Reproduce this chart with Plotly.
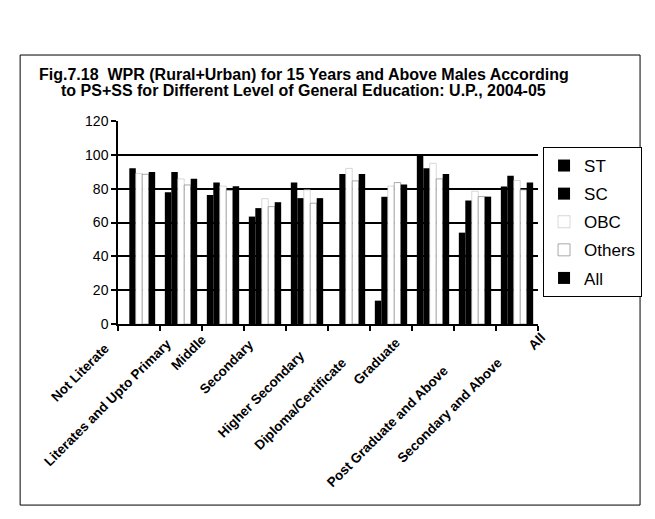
import plotly.graph_objects as go

categories = ["Not Literate", "Literates and Upto Primary", "Middle", "Secondary",
              "Higher Secondary", "Diploma/Certificate", "Graduate",
              "Post Graduate and Above", "Secondary and Above", "All"]
st = [None, 77.9, 76.3, 63.5, 83.7, None, 13.8, 99.6, 54.0, 81.3]
sc = [92.0, 89.8, 83.6, 68.5, 74.4, 88.6, 75.2, 92.1, 73.0, 87.6]
obc = [89.0, 85.8, 81.5, 74.1, 79.3, 92.0, 81.5, 95.0, 78.5, 84.8]
others = [88.5, 82.2, 79.0, 69.4, 71.4, 84.6, 83.6, 85.8, 75.3, 79.3]
all_ = [89.8, 85.8, 81.5, 72.0, 74.4, 88.6, 82.5, 88.6, 75.3, 83.6]
y_ticks = [0, 20, 40, 60, 80, 100, 120]
title_lines = ["Fig.7.18  WPR (Rural+Urban) for 15 Years and Above Males According",
               "to PS+SS for Different Level of General Education: U.P., 2004-05"]

# label placement offsets (px) mimicking the original's staggered category labels
label_dx = [-24, -4, -11, -5, 3, 4, 15, 21, 33, 34]
label_dy = [-13, -9, -5, -10, -21, -28, -8, -36, -28, -3]

FONT = "Liberation Sans, Arial, sans-serif"

series = [
    ("ST", st, "#000000", "#000000", 0),
    ("SC", sc, "#000000", "#000000", 0),
    ("OBC", obc, "#ffffff", "#b0b0b0", 0.5),
    ("Others", others, "#ffffff", "#707070", 0.6),
    ("All", all_, "#000000", "#000000", 0),
]

fig = go.Figure()
for name, vals, fill, line, lw in series:
    fig.add_trace(go.Bar(
        x=categories, y=vals, name=name, legendgroup=name,
        marker=dict(color=fill, line=dict(color=line, width=lw)),
    ))

# page body has an 8px margin, so the figure is 8px smaller and shifted
fig.update_layout(
    width=647, height=511,
    paper_bgcolor="white", plot_bgcolor="white",
    barmode="group", bargap=0.23, bargroupgap=0,
    font=dict(family=FONT, size=13, color="black"),
    margin=dict(l=110, r=117, t=113, b=195, autoexpand=False),
    legend=dict(
        x=1.012, xanchor="left", y=0.872, yanchor="top",
        bordercolor="black", borderwidth=1, bgcolor="white",
        font=dict(family=FONT, size=17, color="black"),
        tracegroupgap=3, itemwidth=30,
    ),
    showlegend=True,
)

for txt, yy in zip(title_lines, [1.227, 1.148]):
    fig.add_annotation(text=txt, xref="paper", yref="paper", x=0.442, y=yy,
                       xanchor="center", yanchor="middle", showarrow=False,
                       font=dict(family=FONT, size=16, color="black", weight="bold"))

for i, (cat, dx, dy) in enumerate(zip(categories, label_dx, label_dy)):
    fig.add_annotation(text=cat, x=i, xref="x", y=0, yref="y",
                       xanchor="right", yanchor="top", textangle=-45,
                       xshift=dx, yshift=dy, showarrow=False,
                       font=dict(family=FONT, size=13.5, color="black", weight="bold"))

fig.update_yaxes(
    range=[0, 120], tickvals=y_ticks, ticktext=[str(v) for v in y_ticks],
    showgrid=True, gridcolor="black", gridwidth=1.5,
    showline=True, linecolor="black", linewidth=1.5,
    ticks="outside", ticklen=5, tickcolor="black", tickwidth=1.5,
    tickfont=dict(family=FONT, size=14, color="black"),
    zeroline=False,
)
fig.update_xaxes(
    type="category", categoryorder="array", categoryarray=categories,
    range=[-0.5, len(categories) - 0.5], autorange=False,
    tickson="boundaries", ticks="outside", ticklen=5,
    tickcolor="black", tickwidth=1.5, showticklabels=False,
    showline=True, linecolor="black", linewidth=1.5,
)

fig.add_shape(type="rect", xref="paper", yref="paper",
              x0=-0.233, x1=1.243, y0=-0.892, y1=1.325,
              line=dict(color="black", width=1), fillcolor="rgba(0,0,0,0)", layer="below")

fig.write_html("out.html")
